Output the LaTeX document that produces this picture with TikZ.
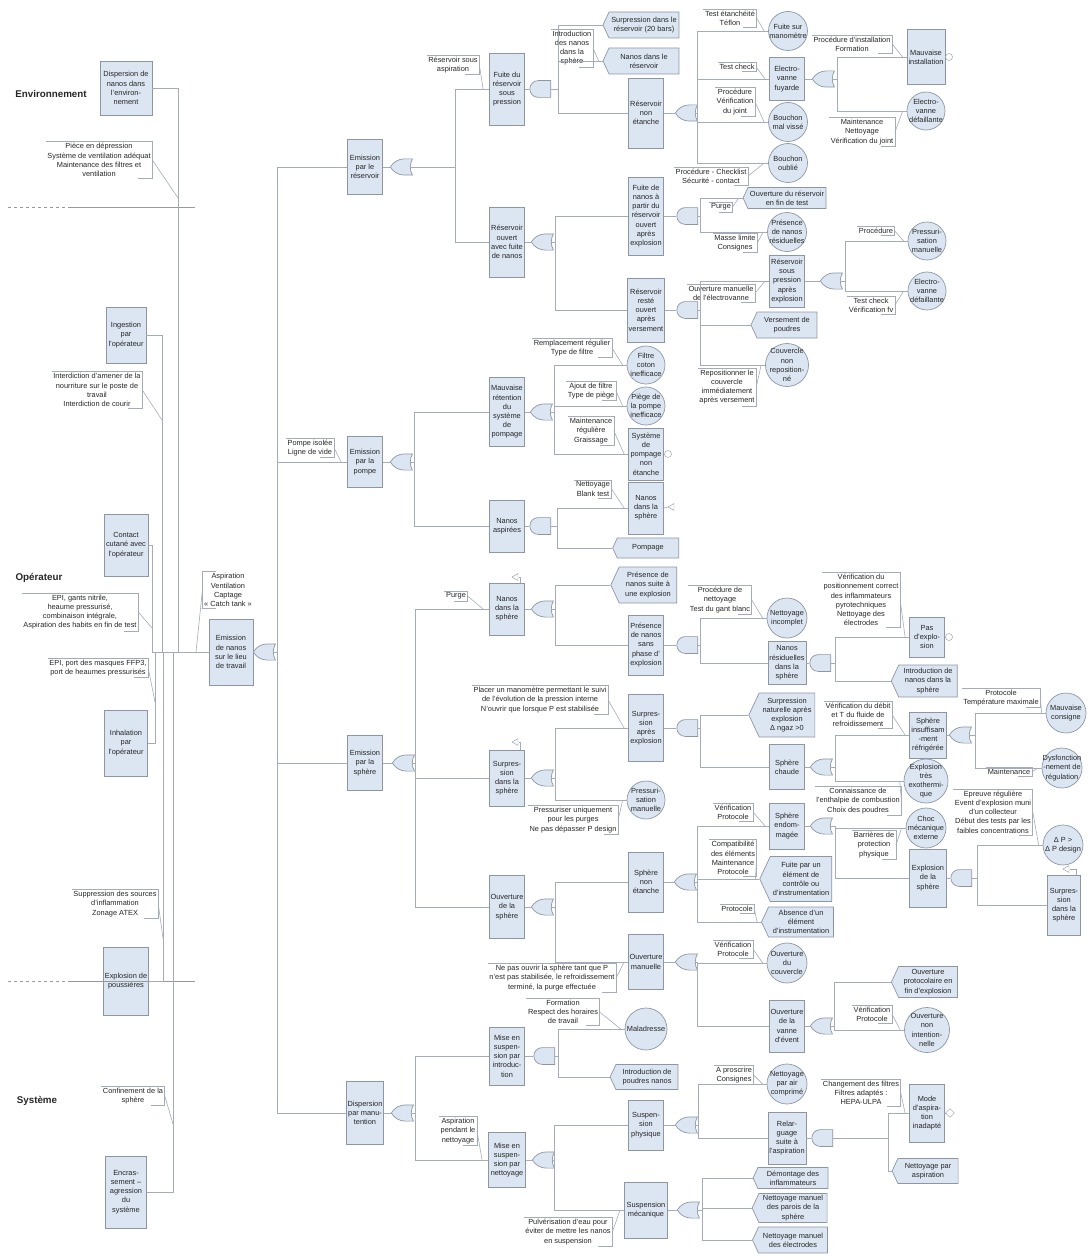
\documentclass[tikz,border=0pt]{standalone}
\usepackage{fontspec}
\setmainfont{Liberation Sans}
\usetikzlibrary{shapes.symbols,shapes.geometric,shapes.gates.logic.US}

\definecolor{boxfill}{HTML}{DCE6F2}
\definecolor{boxline}{HTML}{8E96A6}
\definecolor{linkcol}{HTML}{A4ACBA}

\tikzset{
  txt/.style={font=\fontsize{7.4}{9.2}\selectfont, text=black!85, align=center},
  cat/.style={font=\fontsize{9.8}{11}\selectfont\bfseries, text=black!85},
  evt/.style={txt, rectangle, draw=boxline, fill=boxfill, line width=0.8pt, inner sep=1pt, minimum width=35pt, minimum height=#1},
  evt/.default=55pt,
  topevt/.style={append after command={\pgfextra{\draw[boxline, line width=0.6pt] ([shift={(2.2pt,-2.2pt)}]\tikzlastnode.north west) rectangle ([shift={(-2.2pt,2.2pt)}]\tikzlastnode.south east);}}},
  bas/.style={txt, circle, draw=boxline, fill=boxfill, line width=0.7pt, inner sep=-4pt, minimum size=#1},
  bas/.default=40pt,
  cond/.style={txt, signal, signal to=west, signal pointer angle=130, draw=boxline, fill=boxfill, line width=0.7pt, inner sep=1pt, minimum width=66pt, minimum height=#1},
  cond/.default=25pt,
  link/.style={draw=linkcol, line width=0.6pt},
  barrier/.style={txt, inner sep=1.5pt, append after command={\pgfextra{\draw[link] (\tikzlastnode.north west) -- (\tikzlastnode.north east) -- (\tikzlastnode.south east) -- ([xshift=-14pt]\tikzlastnode.south east);}}},
  barrierl/.style={txt, inner sep=1.5pt, append after command={\pgfextra{\draw[link] ([xshift=14pt]\tikzlastnode.north west) -- (\tikzlastnode.north west) -- (\tikzlastnode.south west) -- ([xshift=14pt]\tikzlastnode.south west);}}},
  orgate/.style={or gate US, draw=boxline, fill=boxfill, line width=0.7pt, rotate=180, logic gate inputs=nn, inner sep=0pt, minimum width=21pt, minimum height=16pt},
  andgate/.style={and gate US, draw=boxline, fill=boxfill, line width=0.7pt, rotate=180, logic gate inputs=nn, inner sep=0pt, minimum width=21pt, minimum height=16pt},
  xfer/.style={isosceles triangle, shape border rotate=180, isosceles triangle apex angle=60, draw=boxline, fill=white, inner sep=0pt, minimum size=6pt},
  undev/.style={circle, draw=boxline, fill=white, inner sep=0pt, minimum size=7pt},
  undevd/.style={diamond, draw=boxline, fill=white, inner sep=0pt, minimum size=9pt},
  sepline/.style={draw=black!40, line width=0.7pt}
}

\begin{document}
\begin{tikzpicture}[x=1pt, y=-1pt]
\useasboundingbox (0,0) rectangle (1089,1260);

%%%%% LEFT SIDE %%%%%
\node[cat] (lenv) at (51,94) {Environnement};
\node[cat] (lope) at (39,578) {Opérateur};
\node[cat] (lsys) at (37,1101) {Système};

\node[evt=54pt, minimum width=52pt] (cenv) at (126,88) {Dispersion de\\nanos dans\\l'environ-\\nement};
\node[barrier] (bpie) at (99,160) {Pièce en dépression\\Système de ventilation adéquat\\Maintenance des filtres et\\ventilation};
\node[evt=56pt, minimum width=40pt] (cing) at (126,335) {Ingestion\\par\\l'opérateur};
\node[barrier] (bint) at (97,390) {Interdiction d'amener de la\\nourriture sur le poste de\\travail\\Interdiction de courir};
\node[evt=62pt, minimum width=44pt] (ccon) at (126,545) {Contact\\cutané avec\\l'opérateur};
\node[barrier] (bepi) at (80,612) {EPI, gants nitrile,\\heaume pressurisé,\\combinaison intégrale,\\Aspiration des habits en fin de test};
\node[barrier] (bmas) at (98,668) {EPI, port des masques FFP3,\\port de heaumes pressurisés};
\node[evt=66pt, minimum width=43pt] (cinh) at (126,743) {Inhalation\\par\\l'opérateur};
\node[barrier] (bsup) at (115,904) {Suppression des sources\\d'inflammation\\Zonage ATEX};
\node[evt=68pt, minimum width=45pt] (cexp) at (126,981) {Explosion de\\poussières};
\node[barrier] (bcnf) at (133,1096) {Confinement de la\\sphère};
\node[evt=72pt, minimum width=41pt] (cenc) at (126,1192) {Encras-\\sement –\\agression\\du\\système};

\draw[sepline, dashed] (8,207) -- (70,207);
\draw[sepline] (70,207) -- (195,207);
\draw[sepline, dashed] (8,981) -- (70,981);
\draw[sepline] (70,981) -- (195,981);

\node[evt=66pt, minimum width=44pt, topevt] (cnano) at (231,652) {Emission\\de nanos\\sur le lieu\\de travail};
\node[barrierl] (basp) at (228,590) {Aspiration\\Ventilation\\Captage\\« Catch tank »};
\node[orgate] (g0) at (266,652) {};

\coordinate (tenv) at (178,652);
\coordinate (ting) at (162,652);
\coordinate (tcon) at (152,652);
\coordinate (tinh) at (155,652);
\coordinate (texp) at (163,652);
\coordinate (tenc) at (173,652);
\draw[link] (cenv.east) -| (tenv);
\draw[link] (cing.east) -| (ting);
\draw[link] (ccon.east) -| (tcon);
\draw[link] (cinh.east) -| (tinh);
\draw[link] (cexp.east) -| (texp);
\draw[link] (cenc.east) -| (tenc);
\draw[link] (tcon) -- (cnano.west);

\coordinate (lpie) at (178,198);
\coordinate (lint) at (162,420);
\coordinate (lepi) at (152,628);
\coordinate (lmas) at (155,702);
\coordinate (lsup) at (163,938);
\coordinate (lcnf) at (173,1124);
\coordinate (lasp) at (196,652);
\draw[link] (bpie.east) -- (lpie);
\draw[link] (bint.east) -- (lint);
\draw[link] (bepi.east) -- (lepi);
\draw[link] (bmas.east) -- (lmas);
\draw[link] (bsup.east) -- (lsup);
\draw[link] (bcnf.east) -- (lcnf);
\draw[link] (basp.west) -- (lasp);

%%%%% LEVEL 1 %%%%%
\node[evt=55pt] (eres) at (365,167) {Emission\\par le\\réservoir};
\node[orgate] (gres) at (403,167) {};
\node[evt=51pt] (epom) at (365,462) {Emission\\par la\\pompe};
\node[orgate] (gpom) at (403,462) {};
\node[barrier] (bpil) at (310,448) {Pompe isolée\\Ligne de vide};
\node[evt=55pt] (esph) at (365,763) {Emission\\par la\\sphère};
\node[orgate] (gsph) at (405,763) {};
\node[evt=63pt, minimum width=36pt] (dman) at (365,1113) {Dispersion\\par manu-\\tention};
\node[orgate] (gman) at (404,1113) {};

\draw[link] (cnano.east) -- (g0.output);
\draw[link] (g0.west) -- ++(4,0) |- (eres.west);
\draw[link] (g0.west) -- ++(4,0) |- (epom.west);
\draw[link] (g0.west) -- ++(4,0) |- (esph.west);
\draw[link] (g0.west) -- ++(4,0) |- (dman.west);
\draw[link] (bpil.east) -- ([xshift=-6pt]epom.west);

%%%%% RESERVOIR %%%%%
\node[evt=72pt] (fres) at (507,89) {Fuite du\\réservoir\\sous\\pression};
\node[andgate] (gfres) at (541,89) {};
\node[barrier] (bras) at (453,65) {Réservoir sous\\aspiration};
\node[evt=70pt] (rouv) at (507,242) {Réservoir\\ouvert\\avec fuite\\de nanos};
\node[orgate] (grouv) at (544,242) {};

\node[cond=26pt, minimum width=76pt] (surres) at (644,25) {Surpression dans le\\réservoir (20 bars)};
\node[cond=26pt, minimum width=76pt] (nanres) at (644,61) {Nanos dans le\\réservoir};
\node[barrier] (bint2) at (572,48) {Introduction\\des nanos\\dans la\\sphère};
\node[evt=70pt] (rne) at (646,113) {Réservoir\\non\\étanche};
\node[orgate] (grne) at (688,113) {};

\node[bas=39pt] (manom) at (788,31) {Fuite sur\\manomètre};
\node[barrier] (btet) at (730,18) {Test étanchéité\\Téflon};
\node[evt=43pt] (evfuy) at (787,79) {Electro-\\vanne\\fuyarde};
\node[orgate] (gevfuy) at (825,79) {};
\node[barrier] (btc1) at (737,67) {Test check};
\node[bas=39pt] (bmv) at (788,122) {Bouchon\\mal vissé};
\node[barrier] (bpvj) at (735,102) {Procédure\\Vérification\\du joint};
\node[bas=39pt] (bou) at (788,163) {Bouchon\\oublié};
\node[barrier] (bpcs) at (711,176) {Procédure - Checklist\\Sécurité - contact};

\node[evt=55pt, minimum width=38pt] (mins) at (926,57) {Mauvaise\\installation};
\node[undev] (umins) at (949,57) {};
\node[barrier] (bpif) at (852,44) {Procédure d'installation\\Formation};
\node[bas=38pt] (evd1) at (926,111) {Electro-\\vanne\\défaillante};
\node[barrier] (bmnv) at (862,132) {Maintenance\\Nettoyage\\Vérification du joint};

\node[evt=78pt] (fnex) at (646,216) {Fuite de\\nanos à\\partir du\\réservoir\\ouvert\\après\\explosion};
\node[andgate] (gfnex) at (688,216) {};
\node[cond=21pt, minimum width=83pt] (ouvres) at (787,198) {Ouverture du réservoir\\en fin de test};
\node[barrier] (bpur1) at (721,207) {Purge};
\node[bas=39pt] (presres) at (787,232) {Présence\\de nanos\\résiduelles};
\node[barrier] (bmlc) at (735,243) {Masse limite\\Consignes};

\node[evt=64pt] (rro) at (646,310) {Réservoir\\resté\\ouvert\\après\\versement};
\node[andgate] (grro) at (688,310) {};
\node[evt=52pt] (rsp) at (787,281) {Réservoir\\sous\\pression\\après\\explosion};
\node[orgate] (grsp) at (833,281) {};
\node[barrier] (bome) at (721,293) {Ouverture manuelle\\de l'électrovanne};
\node[bas=38pt] (pman1) at (927,241) {Pressuri-\\sation\\manuelle};
\node[barrier] (bproc) at (876,231) {Procédure};
\node[bas=38pt] (evd2) at (927,291) {Electro-\\vanne\\défaillante};
\node[barrier] (btcv) at (871,305) {Test check\\Vérification fv};
\node[cond=26pt] (vpou) at (787,325) {Versement de\\poudres};
\node[bas=43pt] (couv) at (787,365) {Couvercle\\non\\reposition-\\né};
\node[barrier] (brep) at (727,387) {Repositionner le\\couvercle\\immédiatement\\après versement};

\draw[link] (eres.east) -- (gres.output);
\draw[link] (gres.west) -- ++(45,0) |- (fres.west);
\draw[link] (gres.west) -- ++(45,0) |- (rouv.west);
\draw[link] (fres.east) -- (gfres.output);
\draw[link] (gfres.west) -- ++(7,0) |- (surres.west);
\draw[link] (gfres.west) -- ++(7,0) |- (nanres.west);
\draw[link] (gfres.west) -- ++(7,0) |- (rne.west);
\draw[link] (rne.east) -- (grne.output);
\draw[link] (grne.west) -- ++(2,0) |- (manom.west);
\draw[link] (grne.west) -- ++(2,0) |- (evfuy.west);
\draw[link] (grne.west) -- ++(2,0) |- (bmv.west);
\draw[link] (grne.west) -- ++(2,0) |- (bou.west);
\draw[link] (evfuy.east) -- (gevfuy.output);
\draw[link] (gevfuy.west) -- ++(5,0) |- (mins.west);
\draw[link] (gevfuy.west) -- ++(5,0) |- (evd1.west);
\draw[link] (mins.east) -- (umins);
\draw[link] (rouv.east) -- (grouv.output);
\draw[link] (grouv.west) -- ++(4,0) |- (fnex.west);
\draw[link] (grouv.west) -- ++(4,0) |- (rro.west);
\draw[link] (fnex.east) -- (gfnex.output);
\draw[link] (gfnex.west) -- ++(2,0) |- (ouvres.west);
\draw[link] (gfnex.west) -- ++(2,0) |- (presres.west);
\draw[link] (rro.east) -- (grro.output);
\draw[link] (grro.west) -- ++(2,0) |- (rsp.west);
\draw[link] (grro.west) -- ++(2,0) |- (vpou.west);
\draw[link] (grro.west) -- ++(2,0) |- (couv.west);
\draw[link] (rsp.east) -- (grsp.output);
\draw[link] (grsp.west) -- ++(5,0) |- (pman1.west);
\draw[link] (grsp.west) -- ++(5,0) |- (evd2.west);

\draw[link] (bras.east) -- ([xshift=-6pt]fres.west);
\draw[link] (bint2.east) -- ([xshift=-4pt]nanres.west);
\draw[link] (btet.east) -- ([xshift=-4pt]manom.west);
\draw[link] (btc1.east) -- ([xshift=-4pt]evfuy.west);
\draw[link] (bpvj.east) -- ([xshift=-4pt]bmv.west);
\draw[link] (bpcs.east) -- ([xshift=-4pt]bou.west);
\draw[link] (bpif.east) -- ([xshift=-4pt]mins.west);
\draw[link] (bmnv.east) -- ([xshift=-4pt]evd1.west);
\draw[link] (bpur1.east) -- ([xshift=-4pt]ouvres.west);
\draw[link] (bmlc.east) -- ([xshift=-4pt]presres.west);
\draw[link] (bome.east) -- ([xshift=-4pt]rsp.west);
\draw[link] (bproc.east) -- ([xshift=-4pt]pman1.west);
\draw[link] (btcv.east) -- ([xshift=-4pt]evd2.west);
\draw[link] (brep.east) -- ([xshift=-4pt]couv.west);

%%%%% POMPE %%%%%
\node[evt=69pt] (mret) at (507,412) {Mauvaise\\rétention\\du\\système\\de\\pompage};
\node[orgate] (gmret) at (543,412) {};
\node[bas=38pt] (filt) at (646,365) {Filtre\\coton\\inefficace};
\node[barrier] (brtf) at (572,348) {Remplacement régulier\\Type de filtre};
\node[bas=38pt] (piege) at (646,406) {Piège de\\la pompe\\inefficace};
\node[barrier] (baft) at (591,391) {Ajout de filtre\\Type de piège};
\node[evt=52pt] (spne) at (646,454) {Système\\de\\pompage\\non\\étanche};
\node[undev] (uspne) at (668,454) {};
\node[barrier] (bmrg) at (591,431) {Maintenance\\régulière\\Graissage};
\node[evt=52pt] (nasp) at (507,526) {Nanos\\aspirées};
\node[andgate] (gnasp) at (541,526) {};
\node[evt=52pt] (nsph2) at (646,508) {Nanos\\dans la\\sphère};
\node[xfer] (xnsph2) at (672,507) {};
\node[barrier] (bnbt) at (593,489) {Nettoyage\\Blank test};
\node[cond=20pt] (pomp) at (648,548) {Pompage};

\draw[link] (epom.east) -- (gpom.output);
\draw[link] (gpom.west) -- ++(4,0) |- (mret.west);
\draw[link] (gpom.west) -- ++(4,0) |- (nasp.west);
\draw[link] (mret.east) -- (gmret.output);
\draw[link] (gmret.west) -- ++(4,0) |- (filt.west);
\draw[link] (gmret.west) -- ++(4,0) |- (piege.west);
\draw[link] (gmret.west) -- ++(4,0) |- (spne.west);
\draw[link] (spne.east) -- (uspne);
\draw[link] (nasp.east) -- (gnasp.output);
\draw[link] (gnasp.west) -- ++(6,0) |- (nsph2.west);
\draw[link] (gnasp.west) -- ++(6,0) |- (pomp.west);
\draw[link] (nsph2.east) -- (xnsph2.apex);
\draw[link] (brtf.east) -- ([xshift=-4pt]filt.west);
\draw[link] (baft.east) -- ([xshift=-4pt]piege.west);
\draw[link] (bmrg.east) -- ([xshift=-4pt]spne.west);
\draw[link] (bnbt.east) -- ([xshift=-4pt]nsph2.west);

%%%%% SPHERE %%%%%
\node[evt=52pt] (nsph) at (507,609) {Nanos\\dans la\\sphère};
\node[xfer] (xnsph) at (516,577) {};
\node[orgate] (gnsph) at (544,609) {};
\node[barrier] (bpur2) at (456,596) {Purge};
\node[cond=36pt] (pnex) at (648,585) {Présence de\\nanos suite à\\une explosion};
\node[evt=60pt] (pnsp) at (646,645) {Présence\\de nanos\\sans\\phase d'\\explosion};
\node[andgate] (gpnsp) at (688,645) {};
\node[bas=40pt] (netinc) at (787,618) {Nettoyage\\incomplet};
\node[barrier] (bpng) at (720,600) {Procédure de\\nettoyage\\Test du gant blanc};
\node[evt=43pt, minimum width=38pt] (nres2) at (787,663) {Nanos\\résiduelles\\dans la\\sphère};
\node[andgate] (gnres2) at (821,663) {};
\node[evt=40pt] (pexp) at (927,637) {Pas\\d'explo-\\sion};
\node[undev] (upexp) at (949,637) {};
\node[barrier] (bvpc) at (861,600) {Vérification du\\positionnement correct\\des inflammateurs\\pyrotechniques\\Nettoyage des\\électrodes};
\node[cond=32pt] (inds) at (928,681) {Introduction de\\nanos dans la\\sphère};

\node[evt=56pt] (ssph) at (507,778) {Surpres-\\sion\\dans la\\sphère};
\node[xfer] (xssph) at (516,742) {};
\node[orgate] (gssph) at (544,778) {};
\node[evt=67pt] (sape) at (646,728) {Surpres-\\sion\\après\\explosion};
\node[andgate] (gsape) at (688,728) {};
\node[barrier] (bplm) at (540,700) {Placer un manomètre permettant le suivi\\de l'évolution de la pression interne\\N'ouvrir que lorsque P est stabilisée};
\node[bas=38pt] (pman2) at (646,800) {Pressuri-\\sation\\manuelle};
\node[barrier] (bpup) at (573,820) {Pressuriser uniquement\\pour les purges\\Ne pas dépasser P design};
\node[cond=44pt] (snat) at (787,715) {Surpression\\naturelle après\\explosion\\Δ ngaz >0};
\node[evt=45pt] (schd) at (787,767) {Sphère\\chaude};
\node[orgate] (gschd) at (823,767) {};
\node[evt=46pt, minimum width=37pt] (sir) at (928,735) {Sphère\\insuffisam\\-ment\\réfrigérée};
\node[orgate] (gsir) at (962,735) {};
\node[barrier] (bvdt) at (858,715) {Vérification du débit\\et T du fluide de\\refroidissement};
\node[bas=40pt] (mcons) at (1066,713) {Mauvaise\\consigne};
\node[barrier] (bptm) at (1001,698) {Protocole\\Température maximale};
\node[bas=40pt] (dysf) at (1062,768) {Dysfonction\\-nement de\\régulation};
\node[barrier] (bmnt) at (1009,772) {Maintenance};
\node[bas=44pt] (exo) at (926,781) {Explosion\\très\\exothermi-\\que};
\node[barrier] (bcec) at (858,801) {Connaissance de\\l'enthalpie de combustion\\Choix des poudres};

\node[evt=63pt] (osph) at (507,907) {Ouverture\\de la\\sphère};
\node[orgate] (gosph) at (544,907) {};
\node[evt=60pt] (spne2) at (646,882) {Sphère\\non\\étanche};
\node[orgate] (gspne2) at (687,882) {};
\node[evt=46pt] (sendo) at (787,826) {Sphère\\endom-\\magée};
\node[orgate] (gsendo) at (823,826) {};
\node[barrier] (bvp1) at (733,812) {Vérification\\Protocole};
\node[bas=40pt] (choc) at (926,828) {Choc\\mécanique\\externe};
\node[barrier] (bbpp) at (874,845) {Barrières de\\protection\\physique};
\node[evt=58pt, minimum width=37pt] (exsph) at (928,878) {Explosion\\de la\\sphère};
\node[andgate] (gexsph) at (962,878) {};
\node[bas=40pt] (dp) at (1063,845) {Δ P >\\Δ P design};
\node[barrier] (berc) at (993,812) {Epreuve régulière\\Event d'explosion muni\\d'un collecteur\\Début des tests par les\\faibles concentrations};
\node[evt=60pt, minimum width=33pt] (ssph2) at (1064,905) {Surpres-\\sion\\dans la\\sphère};
\node[xfer] (xssph2) at (1067,869) {};
\node[cond=45pt, minimum width=72pt] (fpe) at (801,879) {Fuite par un\\élément de\\contrôle ou\\d'instrumentation};
\node[barrier] (bcmp) at (733,858) {Compatibilité\\des éléments\\Maintenance\\Protocole};
\node[cond=30pt, minimum width=72pt] (aei) at (801,922) {Absence d'un\\élément\\d'instrumentation};
\node[barrier] (bpro) at (737,909) {Protocole};

\node[evt=55pt] (ouvm) at (646,962) {Ouverture\\manuelle};
\node[orgate] (gouvm) at (688,962) {};
\node[barrier] (bnpo) at (552,978) {Ne pas ouvrir la sphère tant que P\\n'est pas stabilisée, le refroidissement\\terminé, la purge effectuée};
\node[bas=40pt] (ouvc) at (787,963) {Ouverture\\du\\couvercle};
\node[barrier] (bvp2) at (733,949) {Vérification\\Protocole};
\node[evt=52pt] (ouvve) at (787,1026) {Ouverture\\de la\\vanne\\d'évent};
\node[orgate] (gouvve) at (823,1026) {};
\node[cond=31pt] (opfe) at (928,982) {Ouverture\\protocolaire en\\fin d'explosion};
\node[bas=45pt] (oni) at (927,1030) {Ouverture\\non\\intention-\\nelle};
\node[barrier] (bvp3) at (872,1014) {Vérification\\Protocole};

\draw[link] (esph.east) -- (gsph.output);
\draw[link] (gsph.west) -- ++(3,0) |- (nsph.west);
\draw[link] (gsph.west) -- ++(3,0) |- (ssph.west);
\draw[link] (gsph.west) -- ++(3,0) |- (osph.west);
\draw[link] ([xshift=3pt]xnsph.center) -| ([xshift=-5pt]nsph.north east);
\draw[link] ([xshift=3pt]xssph.center) -| ([xshift=-5pt]ssph.north east);
\draw[link] ([xshift=3pt]xssph2.center) -| ([xshift=-5pt]ssph2.north east);
\draw[link] (nsph.east) -- (gnsph.output);
\draw[link] (gnsph.west) -- ++(4,0) |- (pnex.west);
\draw[link] (gnsph.west) -- ++(4,0) |- (pnsp.west);
\draw[link] (pnsp.east) -- (gpnsp.output);
\draw[link] (gpnsp.west) -- ++(2,0) |- (netinc.west);
\draw[link] (gpnsp.west) -- ++(2,0) |- (nres2.west);
\draw[link] (nres2.east) -- (gnres2.output);
\draw[link] (gnres2.west) -- ++(4,0) |- (pexp.west);
\draw[link] (gnres2.west) -- ++(4,0) |- (inds.west);
\draw[link] (pexp.east) -- (upexp);
\draw[link] (ssph.east) -- (gssph.output);
\draw[link] (gssph.west) -- ++(4,0) |- (sape.west);
\draw[link] (gssph.west) -- ++(4,0) |- (pman2.west);
\draw[link] (sape.east) -- (gsape.output);
\draw[link] (gsape.west) -- ++(2,0) |- (snat.west);
\draw[link] (gsape.west) -- ++(2,0) |- (schd.west);
\draw[link] (schd.east) -- (gschd.output);
\draw[link] (gschd.west) -- ++(5,0) |- (sir.west);
\draw[link] (gschd.west) -- ++(5,0) |- (exo.west);
\draw[link] (sir.east) -- (gsir.output);
\draw[link] (gsir.west) -- ++(6,0) |- (mcons.west);
\draw[link] (gsir.west) -- ++(6,0) |- (dysf.west);
\draw[link] (osph.east) -- (gosph.output);
\draw[link] (gosph.west) -- ++(4,0) |- (spne2.west);
\draw[link] (gosph.west) -- ++(4,0) |- (ouvm.west);
\draw[link] (spne2.east) -- (gspne2.output);
\draw[link] (gspne2.west) -- ++(3,0) |- (sendo.west);
\draw[link] (gspne2.west) -- ++(3,0) |- (fpe.west);
\draw[link] (gspne2.west) -- ++(3,0) |- (aei.west);
\draw[link] (sendo.east) -- (gsendo.output);
\draw[link] (gsendo.west) -- ++(5,0) |- (choc.west);
\draw[link] (gsendo.west) -- ++(5,0) |- (exsph.west);
\draw[link] (exsph.east) -- (gexsph.output);
\draw[link] (gexsph.west) -- ++(5,0) |- (dp.west);
\draw[link] (gexsph.west) -- ++(5,0) |- (ssph2.west);
\draw[link] (ouvm.east) -- (gouvm.output);
\draw[link] (gouvm.west) -- ++(2,0) |- (ouvc.west);
\draw[link] (gouvm.west) -- ++(2,0) |- (ouvve.west);
\draw[link] (ouvve.east) -- (gouvve.output);
\draw[link] (gouvve.west) -- ++(4,0) |- (opfe.west);
\draw[link] (gouvve.west) -- ++(4,0) |- (oni.west);

\draw[link] (bpur2.east) -- ([xshift=-6pt]nsph.west);
\draw[link] (bpng.east) -- ([xshift=-4pt]netinc.west);
\draw[link] (bvpc.east) -- ([xshift=-4pt]pexp.west);
\draw[link] (bplm.east) -- ([xshift=-4pt]sape.west);
\draw[link] (bpup.east) -- ([xshift=-4pt]pman2.west);
\draw[link] (bvdt.east) -- ([xshift=-4pt]sir.west);
\draw[link] (bptm.east) -- ([xshift=-4pt]mcons.west);
\draw[link] (bmnt.east) -- ([xshift=-4pt]dysf.west);
\draw[link] (bcec.east) -- ([xshift=-4pt]exo.west);
\draw[link] (bvp1.east) -- ([xshift=-4pt]sendo.west);
\draw[link] (bbpp.east) -- ([xshift=-4pt]choc.west);
\draw[link] (berc.east) -- ([xshift=-4pt]dp.west);
\draw[link] (bcmp.east) -- ([xshift=-4pt]fpe.west);
\draw[link] (bpro.east) -- ([xshift=-4pt]aei.west);
\draw[link] (bnpo.east) -- ([xshift=-4pt]ouvm.west);
\draw[link] (bvp2.east) -- ([xshift=-4pt]ouvc.west);
\draw[link] (bvp3.east) -- ([xshift=-4pt]oni.west);

%%%%% MANUTENTION %%%%%
\node[evt=58pt] (msi) at (507,1056) {Mise en\\suspen-\\sion par\\introduc-\\tion};
\node[andgate] (gmsi) at (545,1056) {};
\node[bas=42pt] (malad) at (646,1029) {Maladresse};
\node[barrier] (bfrh) at (563,1012) {Formation\\Respect des horaires\\de travail};
\node[cond=25pt, minimum width=68pt] (ipn) at (647,1077) {Introduction de\\poudres nanos};
\node[evt=55pt, minimum width=37pt] (msn) at (507,1160) {Mise en\\suspen-\\sion par\\nettoyage};
\node[orgate] (gmsn) at (545,1160) {};
\node[barrier] (bapn) at (458,1131) {Aspiration\\pendant le\\nettoyage};
\node[evt=50pt] (sphy) at (646,1125) {Suspen-\\sion\\physique};
\node[orgate] (gsphy) at (688,1125) {};
\node[bas=40pt] (nac) at (787,1084) {Nettoyage\\par air\\comprimé};
\node[barrier] (bapc) at (734,1075) {A proscrire\\Consignes};
\node[evt=52pt, minimum width=38pt] (relar) at (787,1138) {Relar-\\guage\\suite à\\l'aspiration};
\node[andgate] (grelar) at (823,1138) {};
\node[evt=58pt] (mai) at (927,1113) {Mode\\d'aspira-\\tion\\inadapté};
\node[undevd] (umai) at (950,1113) {};
\node[barrier] (bcfh) at (861,1093) {Changement des filtres\\Filtres adaptés :\\HEPA-ULPA};
\node[cond=25pt] (npa) at (928,1171) {Nettoyage par\\aspiration};
\node[evt=56pt, minimum width=43pt] (smec) at (646,1210) {Suspension\\mécanique};
\node[orgate] (gsmec) at (690,1210) {};
\node[barrier] (bpulv) at (568,1232) {Pulvérisation d'eau pour\\éviter de mettre les nanos\\en suspension};
\node[cond=21pt, minimum width=75pt] (demo) at (793,1178) {Démontage des\\inflammateurs};
\node[cond=29pt, minimum width=75pt] (nmp) at (793,1208) {Nettoyage manuel\\des parois de la\\sphère};
\node[cond=26pt, minimum width=75pt] (nme) at (793,1240) {Nettoyage manuel\\des électrodes};

\draw[link] (dman.east) -- (gman.output);
\draw[link] (gman.west) -- ++(4,0) |- (msi.west);
\draw[link] (gman.west) -- ++(4,0) |- (msn.west);
\draw[link] (msi.east) -- (gmsi.output);
\draw[link] (gmsi.west) -- ++(3,0) |- (malad.west);
\draw[link] (gmsi.west) -- ++(3,0) |- (ipn.west);
\draw[link] (msn.east) -- (gmsn.output);
\draw[link] (gmsn.west) -- ++(2,0) |- (sphy.west);
\draw[link] (gmsn.west) -- ++(2,0) |- (smec.west);
\draw[link] (sphy.east) -- (gsphy.output);
\draw[link] (gsphy.west) -- ++(3,0) |- (nac.west);
\draw[link] (gsphy.west) -- ++(3,0) |- (relar.west);
\draw[link] (relar.east) -- (grelar.output);
\draw[link] (grelar.west) -- ++(55,0) |- (mai.west);
\draw[link] (grelar.west) -- ++(55,0) |- (npa.west);
\draw[link] (mai.east) -- (umai);
\draw[link] (smec.east) -- (gsmec.output);
\draw[link] (gsmec.west) -- ++(5,0) |- (demo.west);
\draw[link] (gsmec.west) -- ++(5,0) |- (nmp.west);
\draw[link] (gsmec.west) -- ++(5,0) |- (nme.west);

\draw[link] (bfrh.east) -- ([xshift=-4pt]malad.west);
\draw[link] (bapn.east) -- ([xshift=-6pt]msn.west);
\draw[link] (bapc.east) -- ([xshift=-4pt]nac.west);
\draw[link] (bcfh.east) -- ([xshift=-4pt]mai.west);
\draw[link] (bpulv.east) -- ([xshift=-4pt]smec.west);

\end{tikzpicture}
\end{document}
